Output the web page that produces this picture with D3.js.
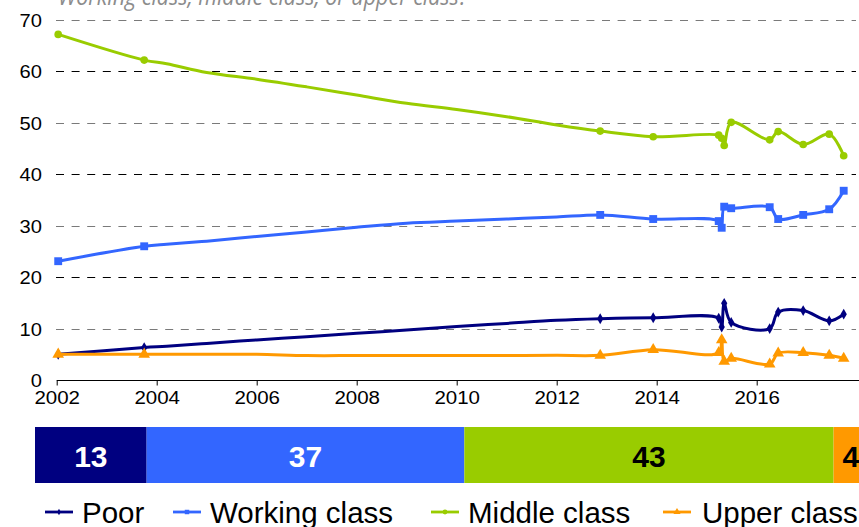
<!DOCTYPE html>
<html>
<head>
<meta charset="utf-8">
<script src="https://cdn.jsdelivr.net/npm/d3@7"></script>
<style>
  html, body { margin: 0; padding: 0; background: #fff; }
  svg { display: block; }
</style>
</head>
<body>
<svg id="chart" width="859" height="527"></svg>
<script>
// Survey dates (decimal years); only fieldwork waves carry a marker
const dates  = [2002.03, 2003.75, 2004.2, 2005, 2006, 2007, 2008, 2009, 2010, 2011, 2012,
                2012.87, 2013.93, 2015.24, 2015.30, 2015.35, 2015.49, 2016.26, 2016.43, 2016.93, 2017.45, 2017.74];
const marked = [1, 1, 0, 0, 0, 0, 0, 0, 0, 0, 0, 1, 1, 1, 1, 1, 1, 1, 1, 1, 1, 1];

const poor         = [5.0, 6.3, 6.55, 7.1, 7.8, 8.4, 9.1, 9.7, 10.4, 11.0, 11.6,
                      11.9, 12.1, 12.0, 10.3, 14.9, 11.2, 10.0, 13.2, 13.5, 11.5, 12.8];
const workingClass = [23.1, 26.0, 26.4, 27.0, 27.9, 28.8, 29.7, 30.5, 30.9, 31.3, 31.7,
                      32.1, 31.3, 30.9, 29.6, 33.7, 33.4, 33.6, 31.3, 32.1, 33.2, 36.8];
const middleClass  = [67.2, 62.2, 61.5, 59.8, 58.5, 57.0, 55.4, 53.8, 52.6, 51.2, 49.6,
                      48.4, 47.3, 47.6, 47.0, 45.6, 50.1, 46.7, 48.3, 45.8, 47.8, 43.6];
const upperClass   = [5.0, 5.0, 5.0, 5.0, 5.0, 4.75, 4.75, 4.75, 4.75, 4.75, 4.8,
                      4.8, 5.9, 5.3, 7.8, 3.6, 4.2, 3.1, 5.2, 5.3, 4.8, 4.2];

const seriesNames  = ["Poor", "Working class", "Middle class", "Upper class"];
const seriesColors = ["#000080", "#3366ff", "#99cc00", "#ff9900"];

// Latest wave shown as a single stacked bar
const latestShares = [13, 37, 43, 4];

const yTicks = [0, 10, 20, 30, 40, 50, 60, 70];
const xTicks = [2002, 2004, 2006, 2008, 2010, 2012, 2014, 2016];
const questionText = "Working class, middle class, or upper class?";

const seriesValues = [poor, workingClass, middleClass, upperClass];
const series = seriesNames.map((name, i) => ({
  name, color: seriesColors[i],
  points: dates.map((d, j) => ({ date: d, value: seriesValues[i][j], marked: marked[j] }))
}));

const svg = d3.select("#chart");
const font = "'Liberation Sans', Arial, sans-serif";

const x = d3.scaleLinear().domain([2002, 2018.046]).range([56.7, 859]);
const y = d3.scaleLinear().domain([0, 70]).range([380, 20]);

// Question text, partly above the top edge
svg.append("text")
  .attr("x", 58).attr("y", 5)
  .attr("font-family", "'Open Sans', 'DejaVu Sans', sans-serif")
  .attr("font-style", "italic")
  .attr("font-size", 24)
  .attr("fill", "#8c8c8c")
  .attr("textLength", 410)
  .attr("lengthAdjust", "spacingAndGlyphs")
  .text(questionText);

// Dashed horizontal gridlines
svg.append("g").selectAll("line")
  .data(yTicks.filter(v => v > 0))
  .join("line")
  .attr("x1", 56).attr("x2", 856)
  .attr("y1", d => Math.round(y(d)) + 0.5)
  .attr("y2", d => Math.round(y(d)) + 0.5)
  .attr("stroke", d => (d / 10) % 2 === 0 ? "#000" : "#7a7a7a")
  .attr("stroke-width", 1)
  .attr("stroke-dasharray", "8,7.6");

// Y axis labels (no axis line)
const yAxis = svg.append("g")
  .attr("transform", "translate(42,0)")
  .call(d3.axisLeft(y).tickValues(yTicks).tickSize(0).tickPadding(0));
yAxis.select(".domain").remove();
yAxis.selectAll("text")
  .attr("font-family", font).attr("font-size", 18).attr("fill", "#000")
  .attr("dy", "0.36em")
  .attr("textLength", d => String(d).length * 11.2)
  .attr("lengthAdjust", "spacingAndGlyphs");

// X axis
const xAxis = svg.append("g")
  .attr("transform", "translate(0,380.5)")
  .call(d3.axisBottom(x).tickValues(xTicks).tickFormat(d3.format("d")).tickSize(5).tickPadding(6).tickSizeOuter(0));
xAxis.select(".domain").attr("stroke", "#000").attr("d", "M56.7,0H859");
xAxis.selectAll(".tick line").attr("stroke", "#000");
xAxis.selectAll("text")
  .attr("font-family", font).attr("font-size", 18).attr("fill", "#000")
  .attr("textLength", 45.6).attr("lengthAdjust", "spacingAndGlyphs");

// Series lines
const line = d3.line()
  .x(d => x(d.date)).y(d => y(d.value))
  .curve(d3.curveCatmullRom.alpha(0.5));

const markerType = [d3.symbolDiamond, d3.symbolSquare, d3.symbolCircle, d3.symbolTriangle];
const markerSize = [34, 62, 46, 58];
const legendMarkerSize = [12, 20, 18, 22];

const sg = svg.append("g").selectAll("g.series")
  .data(series).join("g").attr("class", "series");

sg.append("path")
  .attr("d", d => line(d.points))
  .attr("fill", "none")
  .attr("stroke", d => d.color)
  .attr("stroke-width", 3)
  .attr("stroke-linejoin", "round");

sg.each(function(s, i) {
  d3.select(this).selectAll("path.marker")
    .data(s.points.filter(p => p.marked))
    .join("path")
    .attr("class", "marker")
    .attr("transform", p => `translate(${x(p.date)},${y(p.value)})`)
    .attr("d", d3.symbol().type(markerType[i]).size(markerSize[i]))
    .attr("fill", s.color);
});

// Stacked bar of latest shares
const bx = d3.scaleLinear().domain([0, 100]).range([35, 893.7]);
let acc = 0;
const segments = latestShares.map((v, i) => {
  const seg = { start: acc, value: v, color: seriesColors[i], label: i < 2 ? "#fff" : "#000" };
  acc += v;
  return seg;
});
const bar = svg.append("g");
bar.selectAll("rect")
  .data(segments).join("rect")
  .attr("x", d => bx(d.start))
  .attr("width", d => bx(d.start + d.value) - bx(d.start))
  .attr("y", 427).attr("height", 56)
  .attr("fill", d => d.color);
bar.selectAll("text")
  .data(segments).join("text")
  .attr("x", d => bx(d.start + d.value / 2))
  .attr("y", 466.5)
  .attr("text-anchor", "middle")
  .attr("font-family", font).attr("font-weight", "bold").attr("font-size", 30)
  .attr("fill", d => d.label)
  .text(d => d.value);

// Legend
const legendSampleX = [45, 173, 431, 663];
const legendTextX = [82, 210, 468, 702];
const lg = svg.append("g").selectAll("g")
  .data(series).join("g");
lg.append("line")
  .attr("x1", (d, i) => legendSampleX[i]).attr("x2", (d, i) => legendSampleX[i] + 28)
  .attr("y1", 512).attr("y2", 512)
  .attr("stroke", d => d.color).attr("stroke-width", 2.8);
lg.append("path")
  .attr("transform", (d, i) => `translate(${legendSampleX[i] + 14},512)`)
  .attr("d", (d, i) => d3.symbol().type(markerType[i]).size(legendMarkerSize[i])())
  .attr("fill", d => d.color);
lg.append("text")
  .attr("x", (d, i) => legendTextX[i]).attr("y", 523)
  .attr("font-family", font).attr("font-size", 29.5).attr("fill", "#000")
  .text(d => d.name);
</script>
</body>
</html>
